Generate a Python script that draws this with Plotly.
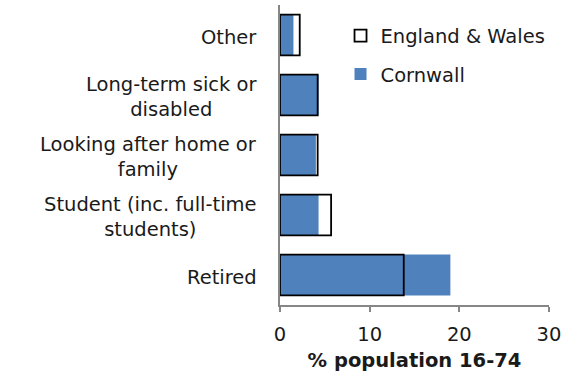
import plotly.graph_objects as go

# Economic inactivity by reason, % of population aged 16-74
categories = ["Retired", "Student (inc. full-time students)", "Looking after home or family",
              "Long-term sick or disabled", "Other"]
category_labels = ["Retired", "Student (inc. full-time<br>students)", "Looking after home or<br>family",
                   "Long-term sick or<br>disabled", "Other"]
cornwall = [19.0, 4.3, 4.0, 4.3, 1.5]
england_wales = [13.8, 5.7, 4.2, 4.2, 2.2]
x_ticks = [0, 10, 20, 30]

FONT = "DejaVu Sans"
SIZE = 19.5
TEXT = "#1a1a1a"
AXIS = "#868686"

fig = go.Figure()
fig.add_trace(go.Bar(
    y=categories, x=cornwall, orientation="h", name="Cornwall",
    marker=dict(color="#4F81BD", line=dict(color="#4F81BD", width=0)),
    width=0.68, legendrank=2, legendgroup="b",
))
fig.add_trace(go.Bar(
    y=categories, x=england_wales, orientation="h", name="England & Wales",
    marker=dict(color="rgba(0,0,0,0)", line=dict(color="black", width=1.8)),
    width=0.68, legendrank=1, legendgroup="a",
))

for cat, lab in zip(categories, category_labels):
    fig.add_annotation(
        x=0, xref="paper", y=cat, yref="y", text=lab, showarrow=False,
        xanchor="right", xshift=-21, yshift=-2, align="center",
        font=dict(family=FONT, size=SIZE, color=TEXT),
    )

fig.update_layout(
    width=578, height=376,
    margin=dict(l=280, r=29, t=5, b=71),
    paper_bgcolor="white", plot_bgcolor="white",
    barmode="overlay",
    showlegend=True,
    legend=dict(x=0.225, y=0.962, xanchor="left", yanchor="top",
                bgcolor="rgba(0,0,0,0)", traceorder="grouped", tracegroupgap=10,
                font=dict(family=FONT, size=SIZE, color=TEXT)),
    font=dict(family=FONT, size=SIZE, color=TEXT),
)
fig.update_xaxes(
    range=[0, 30], tickvals=x_ticks, ticktext=[str(v) for v in x_ticks],
    showgrid=False, zeroline=False, showline=True, linecolor=AXIS, linewidth=1.5,
    ticks="outside", ticklen=5, tickcolor=AXIS, tickwidth=1.5,
    ticklabelstandoff=6,
    tickfont=dict(family=FONT, size=SIZE, color=TEXT),
    title=dict(text="<b>% population 16-74</b>", standoff=8,
               font=dict(family=FONT, size=SIZE, color=TEXT)),
)
fig.update_yaxes(
    categoryorder="array", categoryarray=categories,
    showticklabels=False, showgrid=False, zeroline=False,
    showline=True, linecolor=AXIS, linewidth=1.5, ticks="",
)

fig.write_html("out.html")
